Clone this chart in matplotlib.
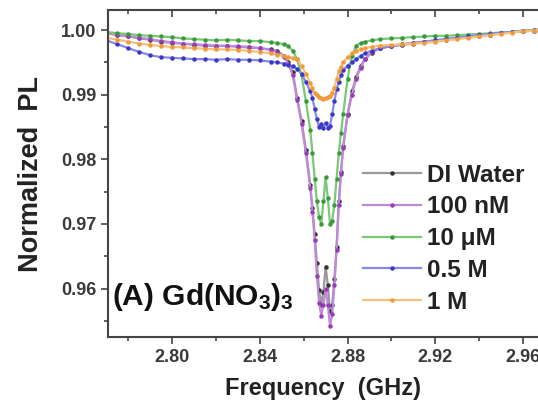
import numpy as np
from matplotlib import pyplot as plt
from matplotlib.ticker import MultipleLocator

plt.rcParams.update({'font.family': ['Liberation Sans', 'DejaVu Sans'],
                     'font.weight': 'bold',
                     'mathtext.default': 'regular'})

#---- data

freq = [2.770, 2.775, 2.780, 2.785, 2.790, 2.795, 2.800, 2.805, 2.810, 2.815,
        2.820, 2.825, 2.830, 2.835, 2.840, 2.845,
        2.848, 2.851, 2.853, 2.855, 2.857, 2.859, 2.861, 2.863,
        2.864, 2.865, 2.866, 2.867, 2.868, 2.869, 2.870, 2.871, 2.872, 2.873,
        2.874, 2.875, 2.876, 2.877, 2.878,
        2.880, 2.882, 2.884, 2.886, 2.888, 2.891,
        2.895, 2.900, 2.905, 2.910, 2.915, 2.920, 2.925, 2.930, 2.935, 2.940,
        2.945, 2.950, 2.955, 2.960, 2.965, 2.968]

di_water = [0.9995, 0.9992, 0.9990, 0.9987, 0.9985, 0.9982, 0.9980, 0.9979, 0.9977, 0.9976,
            0.9975, 0.9976, 0.9974, 0.9973, 0.9972, 0.9970,
            0.9968, 0.9960, 0.9950, 0.9935, 0.9895, 0.9860, 0.9815, 0.9760,
            0.9725, 0.9685, 0.9640, 0.9598, 0.9575, 0.9595, 0.9634, 0.9605, 0.9565, 0.9575,
            0.9615, 0.9665, 0.9735, 0.9780, 0.9820,
            0.9870, 0.9905, 0.9928, 0.9945, 0.9955, 0.9965,
            0.9972, 0.9975, 0.9977, 0.9979, 0.9981, 0.9983, 0.9985, 0.9987, 0.9989, 0.9991,
            0.9993, 0.9995, 0.9997, 0.9998, 0.9999, 1.0000]

nm_100 = [0.9996, 0.9993, 0.9991, 0.9988, 0.9986, 0.9983, 0.9981, 0.9979, 0.9978, 0.9977,
          0.9976, 0.9975, 0.9975, 0.9974, 0.9972, 0.9969,
          0.9966, 0.9958, 0.9948, 0.9930, 0.9892, 0.9855, 0.9810, 0.9755,
          0.9718, 0.9675, 0.9620, 0.9578, 0.9558, 0.9575, 0.9600, 0.9575, 0.9542, 0.9560,
          0.9605, 0.9660, 0.9730, 0.9778, 0.9818,
          0.9868, 0.9900, 0.9925, 0.9942, 0.9955, 0.9966,
          0.9972, 0.9976, 0.9978, 0.9980, 0.9982, 0.9984, 0.9986, 0.9988, 0.9990, 0.9992,
          0.9993, 0.9995, 0.9997, 0.9999, 1.0000, 1.0001]

um_10 = [0.9997, 0.9995, 0.9994, 0.9992, 0.9991, 0.9990, 0.9989, 0.9987, 0.9986, 0.9985,
         0.9984, 0.9985, 0.9984, 0.9983, 0.9983, 0.9981,
         0.9980, 0.9978, 0.9975, 0.9968, 0.9955, 0.9930, 0.9890, 0.9845,
         0.9810, 0.9770, 0.9735, 0.9710, 0.9700, 0.9735, 0.9772, 0.9740, 0.9700, 0.9705,
         0.9730, 0.9770, 0.9810, 0.9840, 0.9870,
         0.9925, 0.9960, 0.9976, 0.9980, 0.9982, 0.9984,
         0.9986, 0.9987, 0.9988, 0.9989, 0.9990, 0.9991, 0.9991, 0.9992, 0.9993, 0.9994,
         0.9995, 0.9996, 0.9997, 0.9999, 1.0000, 1.0001]

m_05 = [0.9984, 0.9978, 0.9972, 0.9966, 0.9961, 0.9958, 0.9957, 0.9956, 0.9955, 0.9955,
        0.9954, 0.9955, 0.9954, 0.9954, 0.9953, 0.9951,
        0.9950, 0.9948, 0.9946, 0.9944, 0.9940, 0.9932, 0.9920, 0.9905,
        0.9895, 0.9878, 0.9862, 0.9850, 0.9855, 0.9848, 0.9856, 0.9849, 0.9852, 0.9870,
        0.9890, 0.9908, 0.9920, 0.9930, 0.9938,
        0.9945, 0.9950, 0.9955, 0.9960, 0.9964, 0.9968,
        0.9972, 0.9975, 0.9978, 0.9980, 0.9982, 0.9984, 0.9986, 0.9988, 0.9990, 0.9992,
        0.9994, 0.9996, 0.9997, 0.9998, 0.9999, 1.0000]

m_1 = [0.9988, 0.9985, 0.9982, 0.9979, 0.9977, 0.9975, 0.9974, 0.9973, 0.9972, 0.9971,
       0.9970, 0.9970, 0.9969, 0.9968, 0.9966, 0.9964,
       0.9962, 0.9960, 0.9958, 0.9957, 0.9955, 0.9945, 0.9932, 0.9918,
       0.9910, 0.9903, 0.9899, 0.9896, 0.9895, 0.9894, 0.9895, 0.9896, 0.9898, 0.9903,
       0.9911, 0.9925, 0.9936, 0.9943, 0.9950,
       0.9958, 0.9964, 0.9968, 0.9970, 0.9972, 0.9974,
       0.9976, 0.9977, 0.9978, 0.9979, 0.9980, 0.9982, 0.9984, 0.9986, 0.9988, 0.9990,
       0.9992, 0.9994, 0.9996, 0.9998, 0.9999, 1.0000]

labels = ['DI Water', '100 nM', '10 \u03bcM', '0.5 M', '1 M']
line_colors = ['#999999', '#c088dc', '#78c878', '#8888ea', '#f7c07a']
mark_colors = ['#303030', '#9a3ab8', '#3a9a3a', '#3838c8', '#f39a38']


#---- Script

if __name__ == '__main__':

    fig = plt.figure(figsize=(5.38, 4.04), dpi=100)
    ax = fig.add_axes([108/538, 67/404, 1 - 108/538, 327/404])

    series = [di_water, nm_100, um_10, m_05, m_1]
    for y, lab, lc, mc in zip(series, labels, line_colors, mark_colors):
        ax.plot(freq, y, '-', color=lc, lw=1.6, marker='o', ms=2.2,
                mfc=mc, mec=mc, label=lab)

    ax.set_xlim(2.7707, 2.9669)
    ax.set_ylim(0.9525, 1.0031)

    ax.xaxis.set_major_locator(MultipleLocator(0.04))
    ax.xaxis.set_minor_locator(MultipleLocator(0.02))
    ax.yaxis.set_major_locator(MultipleLocator(0.01))
    ax.yaxis.set_minor_locator(MultipleLocator(0.005))
    ax.xaxis.set_major_formatter(plt.FormatStrFormatter('%.2f'))
    ax.yaxis.set_major_formatter(plt.FormatStrFormatter('%.2f'))

    ax.tick_params(which='both', direction='out', top=True, right=False,
                   color='#444444', width=1.2, labelsize=13, labelcolor='#3a3a3a')
    ax.tick_params(which='major', length=5)
    ax.tick_params(which='minor', length=3)
    ax.tick_params(axis='x', which='both', top=True, labeltop=False)
    for lab in ax.get_xticklabels() + ax.get_yticklabels():
        lab.set_fontweight('bold')
    # top ticks point inward
    for t in ax.xaxis.get_major_ticks() + ax.xaxis.get_minor_ticks():
        t.tick2line.set_marker(3)

    for side in ['left', 'bottom', 'top']:
        ax.spines[side].set_color('#444444')
        ax.spines[side].set_linewidth(1.5)
    ax.spines['right'].set_visible(False)

    ax.set_xlabel('Frequency  (GHz)', fontsize=17, fontweight='bold',
                  color='#222222', labelpad=8)
    ax.set_ylabel('Normalized  PL', fontsize=19.5, fontweight='bold',
                  color='#222222', labelpad=12)

    ax.text(0.01, 0.098, r'(A) Gd(NO$_3$)$_3$', transform=ax.transAxes,
            fontsize=21.5, fontweight='bold', color='#111111', va='baseline')

    leg = ax.legend(loc='upper left', bbox_to_anchor=(0.593, 0.53),
                    frameon=False, fontsize=17.5, handlelength=2.4,
                    handletextpad=0.25, labelspacing=0.36, borderaxespad=0,
                    borderpad=0)
    for txt in leg.get_texts():
        txt.set_fontweight('bold')
        txt.set_color('#222222')

    plt.savefig('out.png', dpi=100)
